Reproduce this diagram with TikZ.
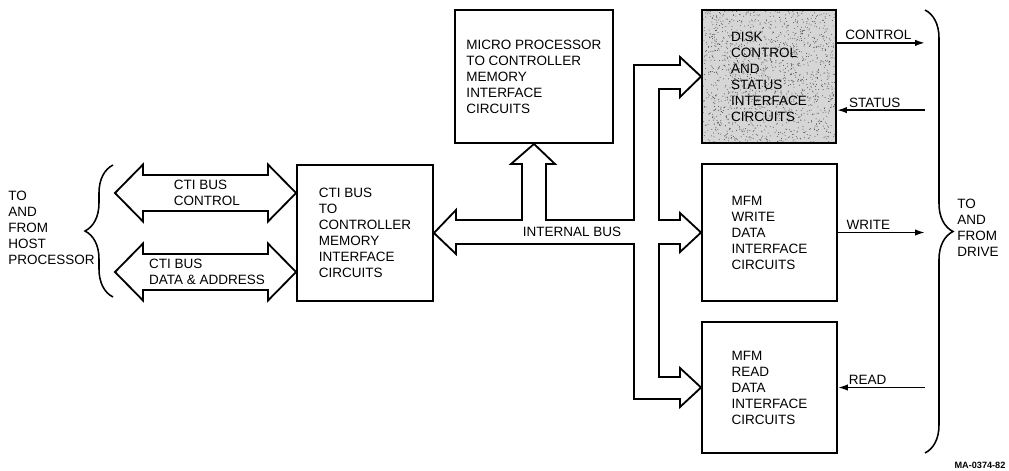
\documentclass[tikz,border=0pt]{standalone}
\usepackage{fontspec}
\setmainfont{Liberation Sans}
\usepackage{tikz}
\usetikzlibrary{arrows.meta,positioning,calc,decorations.pathreplacing}
\tikzset{
  blk/.style={draw,line width=1.3pt,align=left,font=\fontsize{9.6}{11.4}\selectfont},
  sig/.style={-{Latex[length=7pt,width=4.5pt]},line width=1.2pt},
  bus/.style={draw,line width=1.3pt,line join=miter},
  brc/.style={decorate,decoration={brace,amplitude=0.7cm},line width=1.1pt},
  lbl/.style={font=\fontsize{9.6}{11.4}\selectfont,inner sep=1.5pt},
  side/.style={font=\fontsize{9.6}{11.4}\selectfont,align=left,anchor=west,inner sep=0pt},
  speckle/.style={path picture={
    \pgfmathsetseed{7}
    \foreach \i in {1,...,1600}
      \fill[black!70] ($(path picture bounding box.center)+(rand*1.7cm,rand*1.7cm)$) circle (0.35pt);
  }}
}

\begin{document}
\begin{tikzpicture}[x=0.025cm,y=-0.025cm]
  \useasboundingbox (0,0) rectangle (1009,470);

  % boxes
  \node[blk,minimum width=3.4cm,minimum height=3.4cm] (cti) at (365,233)
    {CTI BUS\\TO\\CONTROLLER\\MEMORY\\INTERFACE\\CIRCUITS};
  \node[blk,minimum width=3.95cm,minimum height=3.325cm] (mpu) at (534,76.5)
    {MICRO PROCESSOR\\TO CONTROLLER\\MEMORY\\INTERFACE\\CIRCUITS};
  \node[blk,fill=black!16,speckle,minimum width=3.35cm,minimum height=3.325cm] (disk) at (769,76.5)
    {DISK\\CONTROL\\AND\\STATUS\\INTERFACE\\CIRCUITS};
  \node[blk,minimum width=3.375cm,minimum height=3.425cm] (wr) at (769.5,232.5)
    {MFM\\WRITE\\DATA\\INTERFACE\\CIRCUITS};
  \node[blk,minimum width=3.375cm,minimum height=3.275cm] (rd) at (769.5,387.5)
    {MFM\\READ\\DATA\\INTERFACE\\CIRCUITS};

  % both ends
  \node[side] (host) at (8,228) {TO\\AND\\FROM\\HOST\\PROCESSOR};
  \node[side] (drive) at (957,228) {TO\\AND\\FROM\\DRIVE};
  \coordinate (hb1) at (113,297);
  \coordinate (hb2) at (113,165);
  \coordinate (db1) at (925,10);
  \coordinate (db2) at (925,453);
  \draw[brc] (hb1) -- (hb2);
  \draw[brc] (db1) -- (db2);

  % cti buses
  \foreach \yc/\txt/\nm in {193/{CTI BUS\\CONTROL}/ctl,272/{CTI BUS\\DATA \& ADDRESS}/dat}{
    \draw[bus] (115,\yc) -- (143,\yc-28.5) -- (143,\yc-18) -- (268,\yc-18) -- (268,\yc-28.5)
      -- (cti.west |- 0,\yc) -- (268,\yc+28.5) -- (268,\yc+18) -- (143,\yc+18) -- (143,\yc+28.5) -- cycle;
    \node[lbl,align=left] (\nm) at (207,\yc) {\txt};
  }

  % internal bus
  \draw[bus] (cti.east) -- (456,210) -- (456,220) -- (522,220) -- (522,164) -- (511,164)
    -- (mpu.south) -- (555,164) -- (546,164) -- (546,220) -- (634,220) -- (634,65)
    -- (680,65) -- (680,57) -- (disk.west) -- (680,97) -- (680,89) -- (659,89) -- (659,220)
    -- (680,220) -- (680,213) -- (wr.west) -- (680,252) -- (680,244) -- (659,244) -- (659,377)
    -- (680,377) -- (680,368) -- (rd.west) -- (680,407) -- (680,399) -- (634,399) -- (634,244)
    -- (456,244) -- (456,254) -- cycle;
  \node[lbl] (ibus) at (572,232) {INTERNAL BUS};

  % drive lines
  \coordinate (ctlp) at ([yshift=0.84cm]disk.east);
  \coordinate (stsp) at ([yshift=-0.84cm]disk.east);
  \draw[sig] (ctlp) -- (ctlp -| db1) node[lbl,pos=0.47,above] {CONTROL};
  \draw[sig] (stsp -| db1) -- (stsp) node[lbl,pos=0.57,above] {STATUS};
  \draw[sig] (wr.east) -- (wr.east -| db1) node[lbl,pos=0.35,above] {WRITE};
  \draw[sig] (rd.east -| db1) -- (rd.east) node[lbl,pos=0.66,above] {READ};

  \node[font=\fontsize{6.5}{7}\selectfont\bfseries] (fig) at (980,465) {MA-0374-82};
\end{tikzpicture}
\end{document}
